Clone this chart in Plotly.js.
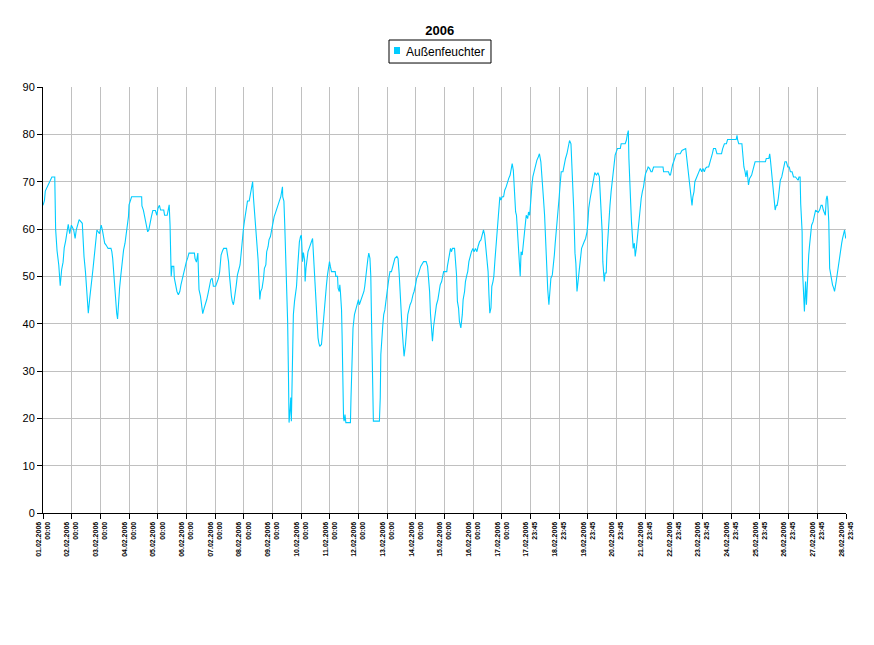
<!DOCTYPE html>
<html>
<head>
<meta charset="utf-8">
<script src="https://cdn.plot.ly/plotly-3.0.1.min.js"></script>
<style>html,body{margin:0;padding:0;background:#fff;}#chart{width:874px;height:645px;}</style>
</head>
<body>
<div id="chart"></div>
<script>
// time in days since 01.02.2006 00:00
const days = [
0.00,0.05,0.08,0.20,0.31,0.41,0.42,0.44,0.49,0.55,0.60,0.65,0.70,0.74,0.79,0.84,0.88,0.93,0.99,1.07,1.12,1.16,1.21,1.26,1.37,1.40,1.43,1.48,1.51,1.55,1.58,1.63,1.67,1.71,1.74,1.78,1.81,1.85,1.88,1.97,2.03,2.07,2.12,2.15,2.20,2.27,2.37,2.40,2.43,2.47,2.50,2.53,2.57,2.60,2.64,2.67,2.71,2.74,2.78,2.81,2.86,2.90,2.94,2.98,3.00,3.05,3.09,3.44,3.45,3.50,3.56,3.60,3.65,3.69,3.73,3.78,3.83,3.92,3.97,4.01,4.06,4.10,4.21,4.24,4.33,4.40,4.43,4.45,4.47,4.50,4.56,4.58,4.63,4.67,4.72,4.77,4.81,4.86,4.91,4.95,5.00,5.05,5.09,5.28,5.30,5.35,5.40,5.42,5.44,5.49,5.53,5.57,5.62,5.66,5.71,5.76,5.80,5.85,5.90,5.94,6.02,6.12,6.16,6.21,6.26,6.30,6.40,6.43,6.47,6.50,6.53,6.57,6.60,6.64,6.67,6.71,6.74,6.78,6.83,6.87,6.91,6.94,6.99,7.02,7.06,7.09,7.13,7.19,7.22,7.27,7.29,7.31,7.34,7.37,7.41,7.45,7.50,7.53,7.56,7.59,7.64,7.69,7.72,7.77,7.80,7.85,7.88,7.93,7.98,8.02,8.06,8.10,8.15,8.20,8.24,8.29,8.33,8.35,8.36,8.40,8.43,8.47,8.50,8.53,8.56,8.57,8.58,8.62,8.64,8.66,8.69,8.71,8.73,8.77,8.80,8.84,8.87,8.91,8.94,8.98,9.01,9.05,9.08,9.12,9.14,9.17,9.21,9.24,9.28,9.33,9.36,9.40,9.43,9.47,9.50,9.53,9.57,9.59,9.62,9.65,9.71,9.74,9.78,9.81,9.85,9.88,9.92,9.95,9.99,10.02,10.06,10.19,10.21,10.27,10.29,10.33,10.35,10.37,10.41,10.43,10.44,10.45,10.48,10.50,10.53,10.56,10.72,10.74,10.78,10.81,10.86,10.90,10.93,10.97,11.00,11.03,11.07,11.10,11.14,11.19,11.22,11.26,11.29,11.33,11.36,11.40,11.43,11.45,11.48,11.50,11.52,11.73,11.76,11.78,11.81,11.85,11.88,11.92,11.95,11.99,12.03,12.07,12.10,12.15,12.19,12.22,12.27,12.34,12.38,12.42,12.44,12.48,12.52,12.56,12.59,12.64,12.69,12.72,12.80,12.85,12.90,12.94,12.99,13.03,13.08,13.13,13.17,13.27,13.36,13.41,13.44,13.48,13.51,13.55,13.58,13.62,13.65,13.69,13.72,13.77,13.80,13.85,13.90,13.93,13.97,14.00,14.08,14.10,14.14,14.17,14.21,14.24,14.28,14.35,14.38,14.42,14.45,14.49,14.52,14.57,14.62,14.65,14.70,14.73,14.78,14.81,14.85,14.90,14.94,14.99,15.03,15.08,15.13,15.17,15.22,15.27,15.31,15.36,15.40,15.43,15.48,15.52,15.55,15.58,15.62,15.65,15.69,15.72,15.76,15.79,15.83,15.86,15.90,15.93,15.97,16.01,16.06,16.10,16.15,16.20,16.24,16.29,16.33,16.36,16.40,16.43,16.48,16.51,16.55,16.58,16.62,16.64,16.67,16.71,16.74,16.78,16.81,16.85,16.90,16.93,16.97,17.01,17.05,17.08,17.12,17.15,17.19,17.22,17.27,17.31,17.36,17.41,17.45,17.49,17.52,17.55,17.57,17.60,17.64,17.67,17.71,17.76,17.79,17.83,17.86,17.90,17.93,17.97,18.00,18.03,18.07,18.13,18.17,18.22,18.27,18.31,18.36,18.41,18.44,18.48,18.51,18.55,18.58,18.62,18.65,18.69,18.73,18.78,18.83,18.87,18.92,18.97,19.00,19.03,19.08,19.13,19.17,19.21,19.24,19.30,19.35,19.40,19.43,19.47,19.50,19.52,19.55,19.57,19.60,19.64,19.66,19.70,19.73,19.77,19.81,19.85,19.88,19.92,19.95,19.99,20.03,20.13,20.16,20.30,20.34,20.37,20.41,20.43,20.45,20.49,20.52,20.56,20.58,20.62,20.65,20.69,20.72,20.76,20.79,20.83,20.86,20.90,20.94,20.98,21.01,21.06,21.10,21.15,21.20,21.24,21.29,21.62,21.64,21.81,21.85,21.88,21.92,21.95,21.99,22.03,22.08,22.22,22.28,22.41,22.43,22.47,22.51,22.55,22.58,22.60,22.63,22.66,22.70,22.73,22.78,22.83,22.88,22.92,22.97,23.01,23.06,23.10,23.15,23.21,23.26,23.30,23.34,23.38,23.45,23.50,23.66,23.70,23.76,23.83,23.87,24.17,24.20,24.22,24.26,24.37,24.41,24.44,24.48,24.51,24.55,24.57,24.60,24.64,24.71,24.74,24.78,24.83,25.19,25.22,25.31,25.34,25.36,25.38,25.42,25.45,25.49,25.51,25.53,25.57,25.60,25.64,25.67,25.71,25.76,25.79,25.84,25.87,25.92,25.97,26.02,26.06,26.12,26.17,26.24,26.29,26.33,26.36,26.40,26.42,26.44,26.47,26.48,26.50,26.52,26.55,26.57,26.59,26.62,26.64,26.66,26.70,26.73,26.77,26.80,26.85,26.90,26.94,27.03,27.08,27.13,27.17,27.21,27.24,27.28,27.31,27.34,27.36,27.40,27.43,27.47,27.50,27.53,27.57,27.60,27.65,27.69,27.72,27.76,27.80,27.85,27.88,27.92,27.95,27.99
];
// Außenfeuchte (%)
const humidity = [
65,66,68,69.5,71,71,67,60,55.4,52.4,48,51.4,53,56,57.5,59.4,61,59,60.8,59.8,58,59.8,60.8,62,61.2,57.5,54.2,51,48.4,46,42.2,45.4,47.2,49.3,51.4,53.8,55.6,57.3,59.8,59,60.8,59.8,58,57,56.6,55.9,55.9,55.2,53.8,50.3,47.5,44.4,42.2,41,45.4,47.5,50,51.7,54.5,55.6,57,58.7,61.5,62.6,65.1,65.9,66.8,66.8,64.9,64,62.2,61.2,59.4,59.8,61.5,62.6,63.9,63.9,62.9,64.4,65,64,64,62.9,62.9,65.1,60.8,57.3,50,52.1,52.1,49.6,47.9,46.8,46.1,46.8,48.2,49.6,51,52.1,53.1,54,54.9,54.9,53.8,53,54.9,51,47.2,45.8,43.6,42.1,43.3,44,45.1,46.5,47.5,49.3,49.6,47.9,47.9,49.6,51,54.5,55.4,55.9,55.9,54.9,53.1,50.3,47.9,45.8,44.7,44,45.1,46.5,48.2,50.3,51.7,52.4,54.9,57.3,60.1,61.5,63.3,64.4,65.9,65.9,67,67.9,68.9,70,66.5,64,61.5,58.7,53.5,49.3,45.1,46.8,47.5,49.6,51.7,52.4,55.2,56.3,57.7,58.4,60.1,61.5,62.6,63.3,64.4,65,65.9,66.8,68.9,68.9,66.8,65.9,60.8,53.5,47.2,40.5,28.6,22.6,19.1,22.2,24.4,19.4,30.7,36.3,41.9,44.7,45.8,47.9,51,54.9,57.3,58.4,58.7,53.1,55,53.5,48.9,51.7,53.8,55.2,55.9,56.6,57.3,58,54.2,50,45.8,41.9,39.1,37,35.9,35.2,35.6,38,40.1,42.6,45.4,47.9,50.3,52.1,53.1,52.1,51,51,50,50,47.5,46.8,48.2,46.8,42.9,37.3,30.3,25.4,20.1,19.4,20.8,19.1,19.1,24.4,34.9,39.1,41.9,42.9,43.6,44.4,45.1,44,44.7,45,45.8,46.8,47.9,49.6,51.7,53.8,54.9,53.8,50,42.6,34.9,30.7,19.4,19.4,24.4,33.5,37,39.8,41.9,42.9,44.4,46.8,48.2,50,51,51,52.1,53.1,53.8,54.2,53.8,50.5,48,41.9,39.1,35.6,33.1,35.6,39.1,41.9,44,44.7,46.1,46.8,48.2,49.6,50.3,51.4,52.1,53.1,53.1,52.1,50.3,46.8,42.2,39.4,36.3,39.4,41.2,42.6,44,45.1,46.8,48.2,48.9,49.6,51,51,51,52.1,53.8,54.9,55.9,55.2,55.9,55.9,53.8,50.3,44.7,43.3,40.5,39.1,41.9,45.1,46.8,48.9,50.3,51,53.1,54.5,55.2,55.9,55.2,55.9,55.2,56.3,57.3,57.7,58.7,59.8,58.7,56.3,53.8,51,46.1,42.2,43.3,47.9,48.9,50,53.5,55.9,59.1,62.6,64.4,66.8,66.1,66.8,66.8,68.2,68.9,70.3,70.7,71.4,72.8,73.8,72.4,68.9,63.6,62.9,58.7,53.8,51.7,50,55.2,54.5,56.3,58.7,60.5,62.9,62.2,63.6,62.9,67.2,69.3,71,72.1,72.8,73.8,74.5,75.2,75.9,74.2,70.7,66.5,62.9,58.7,55.9,49.6,47.2,44,47.5,49.6,50.3,53.1,54.5,57,59.4,61.2,64.4,66.8,69.3,72.1,72.1,73.5,74.9,75.9,77,78.7,78,73.5,70,63.6,54.9,52.8,46.8,48.9,51.7,53.1,55.9,57,57.3,58,59.4,61.5,64.4,66.5,68.2,70.3,71.4,71.9,71.4,71.9,71,67.2,62.9,59.1,53.1,50.7,48.9,50.7,50.7,54.5,59.4,62.9,65,67.9,70.3,71.7,74.2,75.6,76.3,77,77,78,78,78.7,79.8,80.8,74.9,70,65.8,61.5,57.3,55.9,57,54.2,56,58,60.8,62.9,64.7,66.5,67.9,68.9,70.7,71.7,72.4,73.1,72.8,72.1,72.1,73.1,73.1,72.1,72.1,71.4,71.4,72.8,73.5,74.2,74.9,75.9,75.9,76.6,77,75.9,74.2,71.4,68.9,67.2,66.1,65,66.8,67.9,70,70.7,71.7,72.1,72.8,72.1,72.8,72.1,72.8,73.1,73.1,74.2,74.9,75.9,77,77,75.9,75.9,77,78,78,78.9,78.9,79.8,78.9,78,78,74.9,73.1,72.1,71,72.4,70.3,69.3,70.7,71.4,72.1,73.1,74.2,74.2,74.9,74.9,75.9,74.9,73.5,71.4,68.6,66.8,65,64,65,65,66.5,68.2,70.3,71,72.1,73.1,74.2,74.2,73.1,73.1,72.1,72.1,71,71,70.7,70.3,71,71,65.4,61.5,59.4,51.7,49.6,46.8,42.6,45.8,48.9,44,47,51.7,54.5,56.6,58.7,60.8,61.5,62.9,64,63.5,64,65,65,64,63.5,62.9,66.2,67,66.2,61.5,51.7,50,49.3,48.2,47.5,46.8,48.6,50.3,52.1,54.2,55.9,57,58,59.1,59.8,58
];
const seriesName = "Außenfeuchter";
const chartTitle = "2006";
const tickDates = ["01.02.2006","02.02.2006","03.02.2006","04.02.2006","05.02.2006","06.02.2006","07.02.2006","08.02.2006","09.02.2006","10.02.2006","11.02.2006","12.02.2006","13.02.2006","14.02.2006","15.02.2006","16.02.2006","17.02.2006","17.02.2006","18.02.2006","19.02.2006","20.02.2006","21.02.2006","22.02.2006","23.02.2006","24.02.2006","25.02.2006","26.02.2006","27.02.2006","28.02.2006"];
const tickTimes = ["00:00","00:00","00:00","00:00","00:00","00:00","00:00","00:00","00:00","00:00","00:00","00:00","00:00","00:00","00:00","00:00","00:00","23:45","23:45","23:45","23:45","23:45","23:45","23:45","23:45","23:45","23:45","23:45","23:45"];
const yTicks = [0,10,20,30,40,50,60,70,80,90];

const lineColor = "#00CCFF";
const tickvals = tickDates.map((d, i) => i);
const ticktext = tickDates.map((d, i) => d + "<br>" + tickTimes[i]);

const data = [
  {x: days, y: humidity, type: "scatter", mode: "lines", name: seriesName,
   line: {color: lineColor, width: 1.1}, showlegend: false, hoverinfo: "x+y"}
];

const layout = {
  width: 874, height: 645,
  paper_bgcolor: "#ffffff", plot_bgcolor: "#ffffff",
  margin: {l: 43, r: 28, t: 87, b: 132},
  font: {family: "Liberation Sans, Arial, sans-serif", color: "#000"},
  title: {text: "<b>" + chartTitle + "</b>", font: {size: 13, color: "#000"},
          x: 0.494, xref: "paper", xanchor: "center", y: 0.953, yanchor: "middle"},
  showlegend: false,
  shapes: [
    {type: "rect", xref: "paper", yref: "paper", x0: 0.4309, x1: 0.5579, y0: 1.0563, y1: 1.1103,
     line: {color: "#000", width: 1}, fillcolor: "#fff"},
    {type: "rect", xref: "paper", yref: "paper", x0: 0.4371, x1: 0.4446, y0: 1.0775, y1: 1.0939,
     line: {width: 0}, fillcolor: lineColor}
  ],
  annotations: [
    {xref: "paper", yref: "paper", x: 0.4496, y: 1.0833, xanchor: "left", yanchor: "middle",
     text: seriesName, showarrow: false, font: {size: 12, color: "#000"}}
  ],
  xaxis: {
    type: "linear", range: [0, 28], tickmode: "array", tickvals: tickvals, ticktext: ticktext,
    tickangle: -90, tickfont: {size: 7, color: "#000", weight: "bold"},
    showgrid: true, gridcolor: "#c0c0c0", gridwidth: 1,
    showline: true, linecolor: "#000", linewidth: 1,
    ticks: "outside", ticklen: 5, tickcolor: "#000", zeroline: false, fixedrange: true
  },
  yaxis: {
    range: [0, 90], tickmode: "array", tickvals: yTicks,
    tickfont: {size: 11, color: "#000"},
    showgrid: true, gridcolor: "#c0c0c0", gridwidth: 1,
    showline: true, linecolor: "#000", linewidth: 1,
    ticks: "outside", ticklen: 5, tickcolor: "#000", zeroline: false, fixedrange: true
  }
};

Plotly.newPlot("chart", data, layout, {displayModeBar: false, staticPlot: true});
</script>
</body>
</html>
